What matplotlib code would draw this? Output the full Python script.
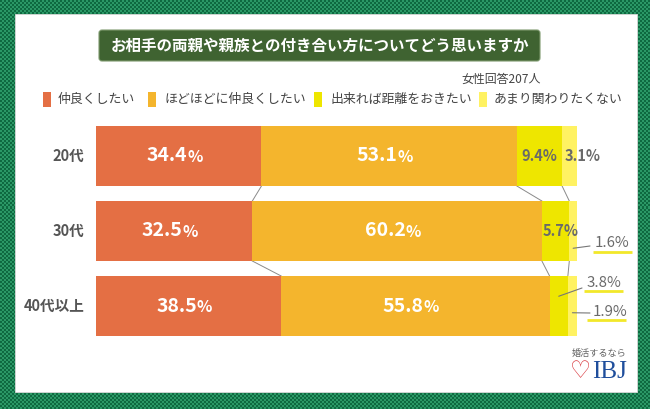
import numpy as np
import matplotlib
matplotlib.use("Agg")
import matplotlib.pyplot as plt
from matplotlib.patches import Rectangle, FancyBboxPatch
from matplotlib.colors import ListedColormap

plt.rcParams['font.family'] = ['Noto Sans CJK JP', 'DejaVu Sans']

# ---- data ----
title = "お相手の両親や親族との付き合い方についてどう思いますか"
note = "女性回答207人"
categories = ["20代", "30代", "40代以上"]
series_names = ["仲良くしたい", "ほどほどに仲良くしたい", "出来れば距離をおきたい", "あまり関わりたくない"]
v_naka = [34.4, 32.5, 38.5]
v_hodo = [53.1, 60.2, 55.8]
v_kyori = [9.4, 5.7, 3.8]
v_amari = [3.1, 1.6, 1.9]
colors = ["#E46F44", "#F4B52D", "#EEE600", "#FFF262"]

series = [v_naka, v_hodo, v_kyori, v_amari]

W, H = 650, 409
fig = plt.figure(figsize=(W / 100, H / 100), dpi=100)

# overlay axes in pixel coordinates
ov = fig.add_axes([0, 0, 1, 1])
ov.axis('off')

# checkered green background
yy, xx = np.indices((H // 2 + 1, W // 2 + 1))
chk = ((yy + xx) % 2).astype(float)
ov.imshow(chk, cmap=ListedColormap(["#0E6940", "#2B9866"]), extent=(0, W + 2, H + 2, 0),
          interpolation='nearest', aspect='auto', zorder=0)
ov.set_xlim(0, W)
ov.set_ylim(H, 0)

# white panel
ov.add_patch(Rectangle((15, 14), 622, 378, facecolor='white', edgecolor='#d8d8d8', lw=0.6, zorder=1))

# title box
ov.add_patch(FancyBboxPatch((99, 30), 441, 31, boxstyle="round,pad=0,rounding_size=3",
                            facecolor="#3F6331", edgecolor="#7E9A6E", lw=0.8, zorder=2))
ov.text(319.5, 45.5, title, color='white', fontsize=11.2, fontweight='bold',
        ha='center', va='center', zorder=3)

# note
ov.text(541, 79, note, color='#444444', fontsize=8.6, ha='right', va='center', zorder=3)

# legend
leg_sq_x = [43, 148, 314, 479]
leg_tx_x = [58, 165, 330, 494]
for sx, tx, c, name in zip(leg_sq_x, leg_tx_x, colors, series_names):
    ov.add_patch(Rectangle((sx, 92), 7.5, 15, facecolor=c, edgecolor='none', zorder=3))
    ov.text(tx, 99.5, name, color='#444444', fontsize=9.3, ha='left', va='center', zorder=3)

# bar axes
x0, x1 = 96, 577
ytop, ybot = 118.5, 343.5
ax = fig.add_axes([x0 / W, 1 - ybot / H, (x1 - x0) / W, (ybot - ytop) / H])
ax.set_xlim(0, 100)
ax.set_ylim(2.5, -0.5)
ax.axis('off')
ax.patch.set_alpha(0)

ypos = np.arange(len(categories))
left = np.zeros(len(categories))
cums = []
for vals, c in zip(series, colors):
    vals = np.array(vals)
    ax.barh(ypos, vals, left=left, height=0.8, color=c, edgecolor='none', zorder=2)
    left = left + vals
    cums.append(left.copy())

# connector lines between bars
for cum in cums[:-1]:
    for i in range(len(categories) - 1):
        ax.plot([cum[i], cum[i + 1]], [i + 0.4, i + 1 - 0.4], color='#8a8a8a', lw=0.7, zorder=1)

# category labels
for i, cat in enumerate(categories):
    ax.text(-2.4, i, cat, color='#555555', fontsize=10.5, fontweight='bold',
            ha='right', va='center', transform=ax.transData, clip_on=False)

# white in-bar labels
for k in range(2):
    for i in range(len(categories)):
        start = cums[k][i] - series[k][i]
        cx = start + series[k][i] / 2
        ax.annotate(f"{series[k][i]:.1f}", xy=(cx, i), xycoords='data', fontsize=14,
                    fontweight='bold', color='white', ha='right', va='center',
                    xytext=(6, 0), textcoords='offset points', zorder=4)
        ax.annotate("%", xy=(cx, i), xycoords='data', fontsize=11.5,
                    fontweight='bold', color='white', ha='left', va='center',
                    xytext=(6, -0.5), textcoords='offset points', zorder=4)

gray = '#6A6A6A'
# 20代 small labels
s = cums[1][0]
ax.text(s + series[2][0] / 2, 0, f"{v_kyori[0]:.1f}%", color=gray, fontsize=10.5,
        fontweight='bold', ha='center', va='center', zorder=4)
s = cums[2][0]
ax.text(s + 0.6, 0, f"{v_amari[0]:.1f}%", color=gray, fontsize=10.5,
        fontweight='bold', ha='left', va='center', zorder=4)
# 30代 5.7%
s = cums[1][1]
ax.text(s + 0.2, 1, f"{v_kyori[1]:.1f}%", color=gray, fontsize=10.5,
        fontweight='bold', ha='left', va='center', zorder=5)

# outside labels with leader lines and underlines
outside = [
    (3, 1, 0.23, (612.5, 243), (590, 246), (593, 632), 252),
    (2, 2, -0.13, (603.5, 283), (582, 288), (584, 623), 291),
    (3, 2, 0.09, (609.5, 312), (590, 313), (587, 626), 320),
]
for k, row, dy, (tx, ty), (lx, ly), (ux0, ux1), uy in outside:
    start = cums[k][row] - series[k][row]
    cx = start + series[k][row] / 2
    ax.annotate('', xy=(cx, row + dy), xycoords='data', xytext=(lx, ly),
                textcoords=ov.transData,
                arrowprops=dict(arrowstyle='-', color='#777777', lw=0.8,
                                shrinkA=0, shrinkB=0), zorder=5, annotation_clip=False)
    ov.text(tx, ty, f"{series[k][row]:.1f}%", color=gray, fontsize=10.8,
            ha='center', va='center', zorder=5)
    ov.plot([ux0, ux1], [uy, uy], color='#F2E82A', lw=2.0, solid_capstyle='butt', zorder=5)

# logo
ov.text(599.5, 353, "婚活するなら", color='#666666', fontsize=6.6, ha='center', va='center', zorder=3)
ov.text(580, 371, "\u2661", color='#D8343A', fontsize=17, ha='center', va='center',
        family='DejaVu Sans', zorder=3)
ov.text(609.5, 372, "IBJ", color='#1F4E9C', fontsize=18, ha='center', va='center',
        family='Liberation Serif', zorder=3)

fig.savefig("out.png", dpi=100)
